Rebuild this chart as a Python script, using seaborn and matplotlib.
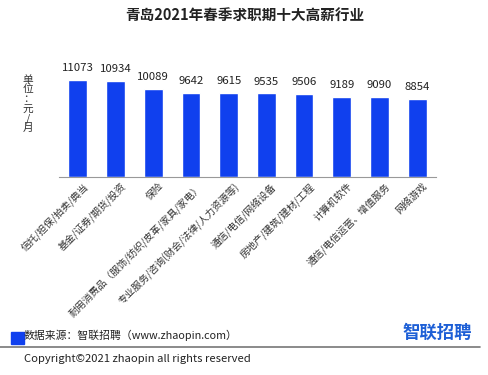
import numpy as np
import seaborn as sns
import matplotlib.pyplot as plt
import matplotlib.transforms as mtransforms

industries = ['信托/担保/拍卖/典当', '基金/证券/期货/投资', '保险',
              '耐用消费品（服饰/纺织/皮革/家具/家电）',
              '专业服务/咨询(财会/法律/人力资源等)', '通信/电信/网络设备',
              '房地产/建筑/建材/工程', '计算机软件',
              '通信/电信运营、增值服务', '网络游戏']
salaries = [11073, 10934, 10089, 9642, 9615, 9535, 9506, 9189, 9090, 8854]

sns.set_style('white')
plt.rcParams['font.family'] = ['Noto Sans CJK SC', 'DejaVu Sans']

bar_color = '#1040ee'
fig = plt.figure(figsize=(4.89, 3.75), dpi=100)
ax = fig.add_axes([59 / 489, 198 / 375, 377 / 489, 109.5 / 375])

sns.barplot(x=industries, y=salaries, color=bar_color, saturation=1,
            width=0.5, ax=ax)
ax.set_ylim(0, 12500)
ax.set_xlim(-0.5, 9.5)

for i, v in enumerate(salaries):
    ax.annotate(str(v), (i, v), xytext=(0, 5), textcoords='offset points',
                ha='center', va='bottom', fontsize=8.2, color='#222222',
                annotation_clip=False)

for s in ['top', 'right', 'left']:
    ax.spines[s].set_visible(False)
ax.spines['bottom'].set_color('#999999')
ax.spines['bottom'].set_linewidth(0.8)
ax.set_yticks([])
ax.set_xlabel('')
ax.set_ylabel('')
ax.set_xticks(np.arange(-0.5, 10, 1), minor=True)
ax.tick_params(axis='x', which='minor', length=4, color='#999999', width=0.8)
ax.tick_params(axis='x', which='major', length=0, pad=3)
ax.set_xticklabels(industries, rotation=45, ha='right', va='top',
                   rotation_mode='anchor', fontsize=7.1, color='#333333')
shift = mtransforms.ScaledTranslation(5 / 100, 0, fig.dpi_scale_trans)
for lbl in ax.get_xticklabels():
    lbl.set_transform(lbl.get_transform() + shift)

fig.text(0.5, 0.957, '青岛2021年春季求职期十大高薪行业', ha='center',
         va='center', fontsize=10.5, fontweight='bold', color='#222222')
fig.text(28 / 489, 1 - 104 / 375, '单\n位\n：\n元\n/\n月', ha='center',
         va='center', fontsize=7.7, linespacing=0.95, color='#333333')

fig.patches.append(plt.Rectangle((11 / 489, 1 - 344 / 375), 13 / 489,
                                 12 / 375, transform=fig.transFigure,
                                 color=bar_color, zorder=3))
fig.text(24 / 489, 1 - 335 / 375, '数据来源：智联招聘（www.zhaopin.com）',
         ha='left', va='center', fontsize=7.8, color='#222222')
fig.text(472 / 489, 1 - 333 / 375, '智联招聘', ha='right', va='center',
         fontsize=12.5, fontweight='bold', color='#1d5fd6')
fig.add_artist(plt.Line2D([0, 480 / 489], [1 - 347 / 375, 1 - 347 / 375],
                          transform=fig.transFigure, color='#777777', lw=1.2))
fig.text(24 / 489, 1 - 359 / 375, 'Copyright©2021 zhaopin all rights reserved',
         ha='left', va='center', fontsize=8.1, color='#222222')

fig.savefig('out.png', dpi=100, facecolor='white')
